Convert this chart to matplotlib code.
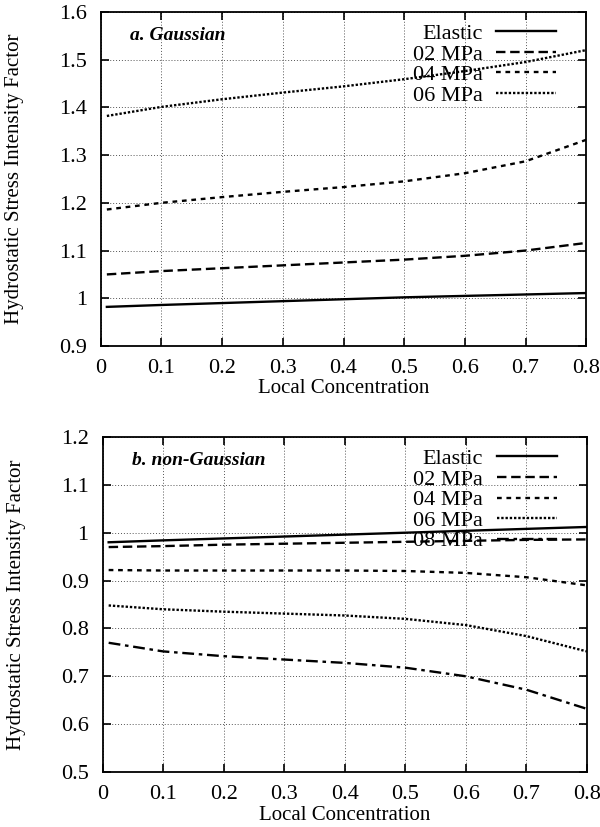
import numpy as np
import matplotlib.pyplot as plt

plt.rcParams["font.family"] = ["Liberation Serif", "DejaVu Serif"]

# Concentration samples
conc = [0.01, 0.1, 0.2, 0.3, 0.4, 0.5, 0.6, 0.7, 0.8]

labels_a = ["Elastic", "02 MPa", "04 MPa", "06 MPa"]
gauss_elastic = [0.982, 0.986, 0.990, 0.994, 0.998, 1.002, 1.005, 1.008, 1.011]
gauss_02 = [1.050, 1.057, 1.063, 1.069, 1.075, 1.081, 1.089, 1.100, 1.116]
gauss_04 = [1.186, 1.200, 1.212, 1.223, 1.233, 1.245, 1.262, 1.287, 1.332]
gauss_06 = [1.382, 1.401, 1.417, 1.431, 1.444, 1.459, 1.476, 1.495, 1.520]

labels_b = ["Elastic", "02 MPa", "04 MPa", "06 MPa", "08 MPa"]
ng_elastic = [0.980, 0.984, 0.988, 0.992, 0.996, 1.000, 1.004, 1.008, 1.012]
ng_02 = [0.970, 0.972, 0.975, 0.977, 0.979, 0.981, 0.983, 0.985, 0.986]
ng_04 = [0.922, 0.921, 0.921, 0.921, 0.921, 0.920, 0.916, 0.907, 0.890]
ng_06 = [0.848, 0.840, 0.835, 0.831, 0.827, 0.820, 0.807, 0.784, 0.752]
ng_08 = [0.770, 0.752, 0.742, 0.735, 0.728, 0.718, 0.700, 0.672, 0.632]

styles = ["-", (0, (4, 2)), (0, (2, 2)), (0, (1, 0.8)), (0, (5, 2, 1.5, 2))]

fig = plt.figure(figsize=(6, 8.27), dpi=100)
ax1 = fig.add_axes([0.168, 0.5816, 0.809, 0.404])
ax2 = fig.add_axes([0.171, 0.0665, 0.807, 0.4051])


def setup(ax, ylim, yticks, title):
    ax.set_xlim(0, 0.8)
    ax.set_ylim(*ylim)
    ax.set_xticks(np.arange(0, 0.81, 0.1))
    ax.set_xticklabels(["0"] + [f"{v:.1f}" for v in np.arange(0.1, 0.81, 0.1)])
    ax.set_yticks(yticks)
    ax.set_yticklabels([f"{v:g}" for v in yticks])
    ax.tick_params(direction="in", top=True, right=True, length=6, width=1.2,
                   labelsize=16)
    ax.tick_params(axis="x", pad=9)
    ax.tick_params(axis="y", pad=10)
    ax.grid(True, linestyle=(0, (1, 2)), color="#555555", linewidth=0.7)
    for s in ax.spines.values():
        s.set_linewidth(1.3)
    ax.set_xlabel("Local Concentration", fontsize=15)
    ax.xaxis.set_label_coords(0.5, -0.1)
    ax.set_ylabel("Hydrostatic Stress Intensity Factor", fontsize=15)
    ax.yaxis.set_label_coords(-0.158, 0.5)
    ax.text(0.06, 0.93, title, transform=ax.transAxes, fontsize=14,
            fontweight="bold", fontstyle="italic", va="center")


leg_kw = dict(loc="upper right", frameon=False, markerfirst=False, fontsize=16,
              handlelength=2.7, labelspacing=0.0, borderaxespad=0.2,
              handletextpad=0.6, bbox_to_anchor=(0.965, 1.005))

setup(ax1, (0.9, 1.6), [0.9, 1, 1.1, 1.2, 1.3, 1.4, 1.5, 1.6], "a. Gaussian")
for ys, lab, ls in zip([gauss_elastic, gauss_02, gauss_04, gauss_06], labels_a, styles):
    ax1.plot(conc, ys, color="black", linestyle=ls, linewidth=1.7, label=lab)
ax1.legend(**leg_kw)

setup(ax2, (0.5, 1.2), [0.5, 0.6, 0.7, 0.8, 0.9, 1, 1.1, 1.2], "b. non-Gaussian")
for ys, lab, ls in zip([ng_elastic, ng_02, ng_04, ng_06, ng_08], labels_b, styles):
    ax2.plot(conc, ys, color="black", linestyle=ls, linewidth=1.7, label=lab)
ax2.legend(**leg_kw)

fig.savefig("out.png", dpi=100)
